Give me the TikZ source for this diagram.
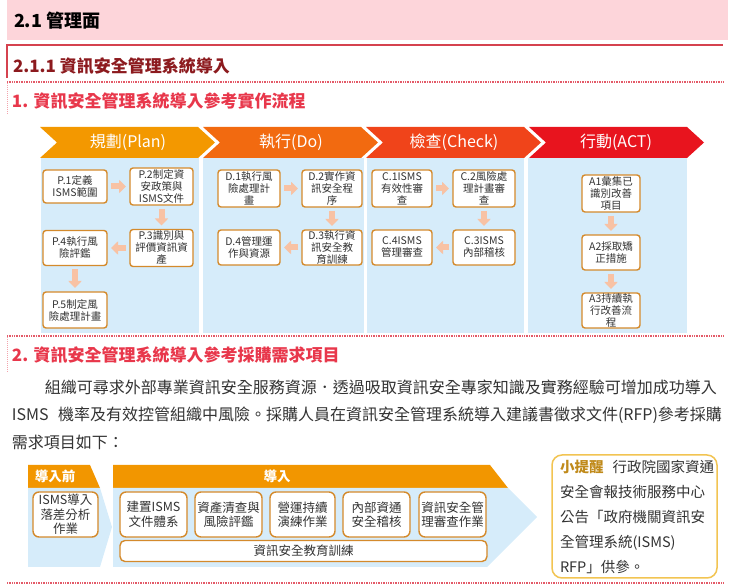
\documentclass[tikz,border=0pt]{standalone}
\usepackage{fontspec}
\setmainfont{Noto Sans CJK TC}
\usetikzlibrary{arrows.meta}
\definecolor{bandpink}{HTML}{FDD5DA}
\definecolor{secred}{HTML}{D5424F}
\definecolor{darkred}{HTML}{8C1A1E}
\definecolor{headred}{HTML}{E8374B}
\definecolor{dotred}{HTML}{E35A68}
\definecolor{sidepink}{HTML}{F2A3AC}
\definecolor{planc}{HTML}{F39800}
\definecolor{doc}{HTML}{F26A10}
\definecolor{checkc}{HTML}{F0441A}
\definecolor{actc}{HTML}{E8141E}
\definecolor{panelblue}{HTML}{D6ECFA}
\definecolor{boxline}{HTML}{D48A2C}
\definecolor{arrowsalmon}{HTML}{F8C2A4}
\definecolor{tabor}{HTML}{F29600}
\definecolor{tipline}{HTML}{F2C452}
\definecolor{tipgold}{HTML}{C08A1A}
\definecolor{txt}{HTML}{333333}
\XeTeXinterchartoks 1 1 = {\hskip 0pt plus 1pt}
\XeTeXinterchartoks 0 1 = {\hskip 0pt plus 1pt}
\XeTeXinterchartoks 1 0 = {\hskip 0pt plus 1pt}
\XeTeXinterchartoks 1 3 = {\hskip 0pt plus 1pt}
\XeTeXinterchartoks 3 1 = {\hskip 0pt plus 1pt}
\XeTeXinterchartoks 1 2 = {\hskip 0pt plus 1pt}
\XeTeXinterchartoks 2 1 = {\hskip 0pt plus 1pt}
\newcommand\myjust[2]{\makebox[#1][s]{\XeTeXinterchartokenstate=1 #2}}
\tikzset{
  dotline/.style={draw=dotred, line width=2pt, dash pattern=on 1pt off 0.7pt},
  sideline/.style={draw=sidepink, line width=0.8pt, dash pattern=on 1pt off 1pt},
  hfont/.style={font=\bfseries\fontsize{17}{17}\selectfont},
  chevtext/.style={text=white, font=\fontsize{16}{16}\selectfont},
  panel/.style={fill=panelblue},
  pbox/.style={draw=boxline, line width=1.4pt, fill=white, rounded corners=3pt,
    inner sep=0pt, align=center, text=txt, font=\fontsize{10.5}{12}\selectfont},
  barrow/.style={draw=arrowsalmon, line width=6pt, -{Triangle[width=13pt,length=7pt]},
    shorten <=4pt, shorten >=4pt},
  bbox/.style={draw=boxline, line width=1.4pt, fill=white, rounded corners=6pt,
    inner sep=0pt, align=center, text=txt, font=\fontsize{12.5}{14.5}\selectfont,
    minimum height=45pt},
  tabtext/.style={text=white, font=\bfseries\fontsize{13.5}{13.5}\selectfont},
  ptext/.style={anchor=west, text=txt, font=\fontsize{16}{16}\selectfont},
}
\begin{document}
\begin{tikzpicture}[x=1pt,y=-1pt, every node/.style={inner sep=0pt, outer sep=0pt}]
\useasboundingbox (0,0) rectangle (748,585);
% ---------- headings ----------
\fill[bandpink] (7,0) rectangle (728,40);
\node[anchor=west, font=\bfseries\fontsize{18}{18}\selectfont] (t21) at (14,21) {2.1 管理面};
\draw[secred, line width=2pt] (7,78) -- (7,45) -- (723,45);
\node[anchor=west, text=darkred, hfont] (t211) at (13,66) {2.1.1 資訊安全管理系統導入};
\draw[dotline] (7,82) -- (723,82);
\draw[sideline] (7,83) -- (7,115);
\node[anchor=west, text=headred, hfont] (t1) at (12,101) {1. 資訊安全管理系統導入參考實作流程};
% ---------- PDCA chevrons ----------
\fill[planc]  (40,127) -- (198,127) -- (215,142.5) -- (198,158) -- (40,158) -- (57,142.5) -- cycle;
\fill[doc]    (203,127) -- (361,127) -- (378,142.5) -- (361,158) -- (203,158) -- (220,142.5) -- cycle;
\fill[checkc] (366,127) -- (524,127) -- (541,142.5) -- (524,158) -- (366,158) -- (383,142.5) -- cycle;
\fill[actc]   (529,127) -- (687,127) -- (704,142.5) -- (687,158) -- (529,158) -- (546,142.5) -- cycle;
\node[chevtext] (hplan) at (128,142) {規劃(Plan)};
\node[chevtext] (hdo) at (291,142) {執行(Do)};
\node[chevtext] (hcheck) at (454,142) {檢查(Check)};
\node[chevtext] (hact) at (616,142) {行動(ACT)};
% panels
\fill[panel] (41,158) rectangle (199,333);
\fill[panel] (203,158) rectangle (364,333);
\fill[panel] (367,158) rectangle (524,333);
\fill[panel] (528,158) rectangle (687,333);
% Plan boxes
\node[pbox, minimum width=64pt, minimum height=33pt] (p1) at (75,186.5) {P.1定義\\ISMS範圍};
\node[pbox, minimum width=63pt, minimum height=37pt] (p2) at (161.5,186.5) {P.2制定資\\安政策與\\ISMS文件};
\node[pbox, minimum width=63pt, minimum height=37pt] (p3) at (161.5,248) {P.3識別與\\評價資訊資\\產};
\node[pbox, minimum width=64pt, minimum height=35pt] (p4) at (75,248) {P.4執行風\\險評鑑};
\node[pbox, minimum width=64pt, minimum height=36pt] (p5) at (75,310) {P.5制定風\\險處理計畫};
% Do boxes
\node[pbox, minimum width=62pt, minimum height=37pt] (d1) at (249,188.5) {D.1執行風\\險處理計\\畫};
\node[pbox, minimum width=60pt, minimum height=37pt] (d2) at (332,188.5) {D.2實作資\\訊安全程\\序};
\node[pbox, minimum width=60pt, minimum height=35pt] (d3) at (332,247.5) {D.3執行資\\訊安全教\\育訓練};
\node[pbox, minimum width=62pt, minimum height=35pt] (d4) at (249,247.5) {D.4管理運\\作與資源};
% Check boxes
\node[pbox, minimum width=60pt, minimum height=37pt] (c1) at (402,188.5) {C.1ISMS\\有效性審\\查};
\node[pbox, minimum width=62pt, minimum height=37pt] (c2) at (484,188.5) {C.2風險處\\理計畫審\\查};
\node[pbox, minimum width=62pt, minimum height=35pt] (c3) at (484,247.5) {C.3ISMS\\內部稽核};
\node[pbox, minimum width=60pt, minimum height=35pt] (c4) at (402,247.5) {C.4ISMS\\管理審查};
% Act boxes
\node[pbox, minimum width=58pt, minimum height=37pt] (a1) at (611,193.5) {A1彙集已\\識別改善\\項目};
\node[pbox, minimum width=58pt, minimum height=35pt] (a2) at (611,252.5) {A2採取矯\\正措施};
\node[pbox, minimum width=58pt, minimum height=35pt] (a3) at (611,310.5) {A3持續執\\行改善流\\程};
% arrows
\draw[barrow] (p1.east) -- (p2.west);
\draw[barrow] (p2.south) -- (p3.north);
\draw[barrow] (p3.west) -- (p4.east);
\draw[barrow] (p4.south) -- (p5.north);
\draw[barrow] (d1.east) -- (d2.west);
\draw[barrow] (d2.south) -- (d3.north);
\draw[barrow] (d3.west) -- (d4.east);
\draw[barrow] (c1.east) -- (c2.west);
\draw[barrow] (c2.south) -- (c3.north);
\draw[barrow] (c3.west) -- (c4.east);
\draw[barrow] (a1.south) -- (a2.north);
\draw[barrow] (a2.south) -- (a3.north);
% ---------- section 2 ----------
\draw[dotline] (7,336) -- (723,336);
\draw[sideline] (7,337) -- (7,373);
\node[anchor=west, text=headred, hfont] (t2) at (12,355) {2. 資訊安全管理系統導入參考採購需求項目};
\node[ptext] (para1) at (45,387) {\myjust{677pt}{組織可尋求外部專業資訊安全服務資源．透過吸取資訊安全專家知識及實務經驗可增加成功導入}};
\node[ptext] (para2) at (12,415) {\myjust{710pt}{ISMS 機率及有效控管組織中風險。採購人員在資訊安全管理系統導入建議書徵求文件(RFP)參考採購}};
\node[ptext] (para3) at (12,442) {需求項目如下：};
% ---------- bottom stages ----------
\fill[tabor] (28,465) -- (90,465) -- (100,488) -- (28,488) -- cycle;
\fill[panel] (28,488) -- (100,488) -- (112,527) -- (100,567) -- (28,567) -- cycle;
\fill[tabor] (113,465) -- (490,465) -- (508,488) -- (113,488) -- cycle;
\fill[panel] (113,488) -- (508,488) -- (537,517) -- (487,567) -- (113,567) -- cycle;
\node[tabtext] (tabpre) at (55,476.5) {導入前};
\node[tabtext] (tabin) at (277,476.5) {導入};
\node[bbox, minimum width=65pt] (gap) at (65.5,514.5) {ISMS導入\\落差分析\\作業};
\node[bbox, minimum width=67pt] (b1) at (153.5,514.5) {建置ISMS\\文件體系};
\node[bbox, minimum width=67pt] (b2) at (228.5,514.5) {資產清查與\\風險評鑑};
\node[bbox, minimum width=65pt] (b3) at (302.5,514.5) {營運持續\\演練作業};
\node[bbox, minimum width=67pt] (b4) at (376.5,514.5) {內部資通\\安全稽核};
\node[bbox, minimum width=67pt] (b5) at (452.5,514.5) {資訊安全管\\理審查作業};
\node[bbox, minimum width=367pt, minimum height=21pt, rounded corners=5pt] (b6) at (303.5,551) {資訊安全教育訓練};
% tip box
\node[draw=tipline, line width=1.5pt, rounded corners=10pt, fill=white,
      minimum width=165pt, minimum height=123pt] (tip) at (634.5,516.5) {};
\node[anchor=west, align=left, text=txt, font=\fontsize{14.5}{25}\selectfont] (tiptext) at (560,517)
  {\textcolor{tipgold}{\bfseries 小提醒}\hspace{9pt}行政院國家資通\\安全會報技術服務中心\\公告「政府機關資訊安\\全管理系統(ISMS)\\RFP」供參。};
\draw[dotline] (7,583) -- (723,583);
\end{tikzpicture}
\end{document}
